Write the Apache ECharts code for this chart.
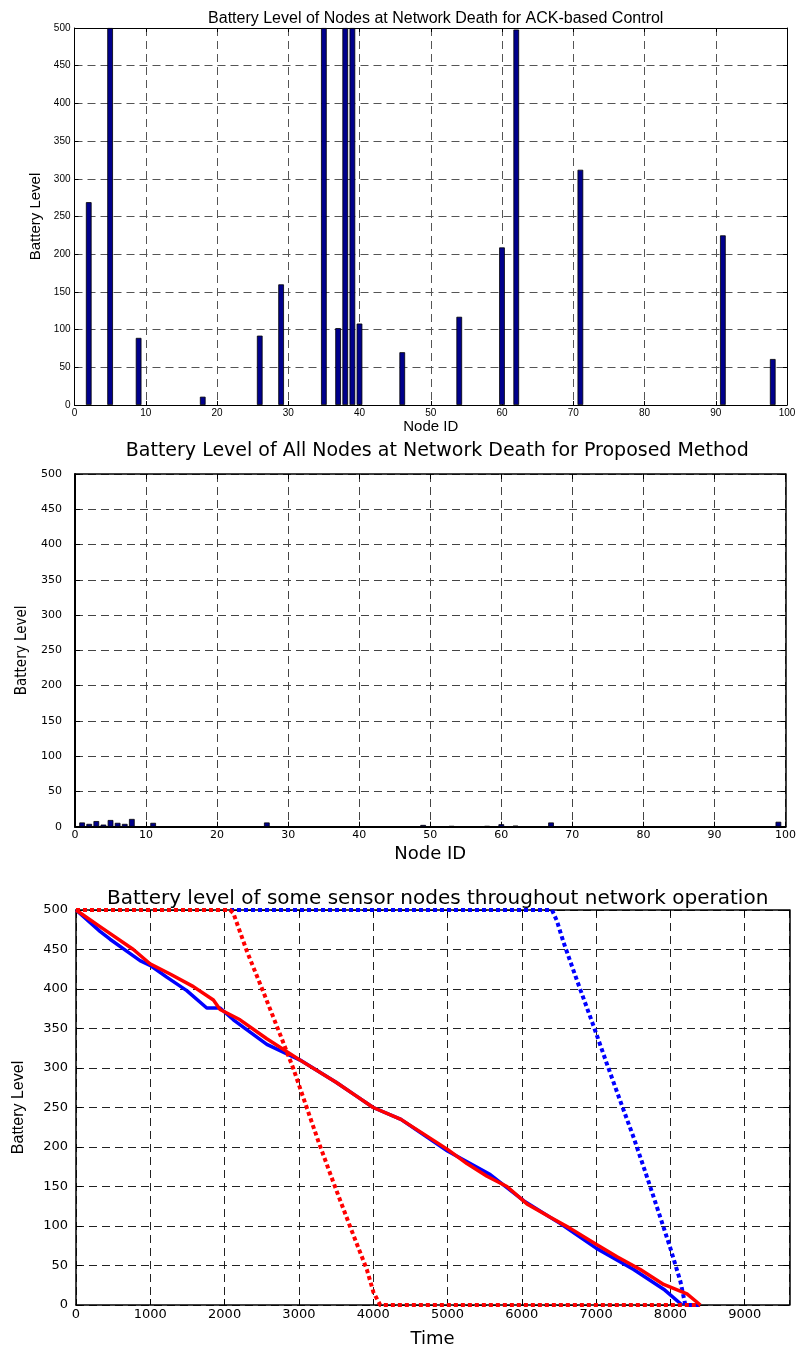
<!DOCTYPE html>
<html><head><meta charset="utf-8">
<script src="https://cdn.jsdelivr.net/npm/echarts@6/dist/echarts.min.js"></script>
<style>html,body{margin:0;padding:0;background:#fff}#c{width:799px;height:1349px}</style>
</head><body><div id="c"></div>
<script>
// ---- Chart 1: ACK-based control ----
const ackNodes  = [2, 5, 9, 18, 26, 29, 35, 37, 38, 39, 40, 46, 54, 60, 62, 71, 91, 98];
const ackLevels = [269, 500, 89, 11, 92, 160, 500, 102, 500, 500, 108, 70, 117, 209, 498, 312, 225, 61];
// ---- Chart 2: proposed method ----
const propNodes  = [1, 2, 3, 4, 5, 6, 7, 8, 11, 27, 49, 53, 58, 60, 62, 67, 99];
const propLevels = [6, 4, 8, 3, 9.5, 5.5, 4, 11, 5.5, 6, 2.5, 1, 1, 3.5, 1.5, 6, 7];
// ---- Chart 3: battery level over time ----
const blueSolidT = [0, 323, 458, 682, 862, 996, 1221, 1491, 1760, 1939, 2118, 2568, 3016, 3500, 3750, 4000, 4373, 5000, 5575, 6024, 6518, 7000, 7505, 7909, 8157];
const blueSolidL = [500, 473, 463, 448, 436, 430, 415, 398, 376, 376, 361, 330, 310, 282, 266, 250, 235, 195, 165, 132, 103, 72, 45, 20, 0];
const redSolidT = [0, 323, 772, 996, 1266, 1580, 1849, 1939, 2208, 2568, 3016, 3500, 3750, 4000, 4373, 5000, 5261, 5531, 5800, 6069, 6383, 6652, 7000, 7282, 7595, 7909, 8223, 8403];
const redSolidL = [500, 479, 450, 432, 419, 403, 386, 374, 361, 337, 310, 282, 266, 250, 235, 197, 179, 163, 150, 128, 111, 97, 77, 61, 45, 26, 14, 0];
const redDotT = [0, 2074, 2118, 2299, 2522, 2770, 2926, 3061, 3270, 3465, 3690, 3914, 4004, 4094, 8400];
const redDotL = [500, 500, 496, 448, 396, 337, 299, 262, 205, 155, 99, 45, 16, 0, 0];
const blueDotT = [0, 6406, 6473, 6562, 6742, 6966, 7146, 7326, 7505, 7685, 7864, 7999, 8134, 8201, 8400];
const blueDotL = [500, 500, 486, 459, 411, 353, 305, 258, 212, 162, 111, 72, 30, 0, 0];

const titles = [
  'Battery Level of Nodes at Network Death for ACK-based Control',
  'Battery Level of All Nodes at Network Death for Proposed Method',
  'Battery level of some sensor nodes throughout network operation'
];
const xNames = ['Node ID', 'Node ID', 'Time'];
const yName = 'Battery Level';

const zip = (a, b) => a.map((v, i) => [v, b[i]]);

const grids = [
  {left: 74.5, top: 28, width: 712.5, height: 377},
  {left: 75, top: 474, width: 714.5, height: 352.7},
  {left: 76, top: 910, width: 713.3, height: 402.7}
];
const cfg = [
  {xMax: 100, xInt: 10, font: 'Liberation Sans', fs: 10, lw: 1, dash: [8,5], gridColor: '#555', tick: 4,
   yLabM: 4, xLabM: 3, titleFs: 16, titleFont: 'Liberation Sans', titleTop: 6,
   xNameFs: 15, xNameFont: 'Liberation Sans', xNameGap: 14, yNameFs: 15, yNameFont: 'Liberation Sans', yNameGap: 29},
  {xMax: 100, xInt: 10, font: 'DejaVu Sans', fs: 11, lw: 2, dash: [8,5], gridColor: '#444', tick: 5,
   yLabM: 13, xLabM: 3, titleFs: 19, titleFont: 'DejaVu Sans', titleTop: 437,
   xNameFs: 18, xNameFont: 'DejaVu Sans', xNameGap: 19, yNameFs: 15, yNameFont: '"DejaVu Sans Condensed", "Liberation Sans"', yNameGap: 40},
  {xMax: 9600, xInt: 1000, font: 'DejaVu Sans', fs: 13, lw: 1.5, dash: [8,5], gridColor: '#222', tick: 6,
   yLabM: 8, xLabM: 3, titleFs: 20, titleFont: 'DejaVu Sans', titleTop: 884,
   xNameFs: 18, xNameFont: 'DejaVu Sans', xNameGap: 25, yNameFs: 16, yNameFont: 'Liberation Sans', yNameGap: 49}
];

const plain = v => String(v);
const xAxis = [], yAxis = [], title = [];
cfg.forEach((c, i) => {
  xAxis.push({
    gridIndex: i, type: 'value', min: 0, max: c.xMax, interval: c.xInt, position: 'bottom',
    name: xNames[i], nameLocation: 'middle', nameGap: c.xNameGap,
    nameTextStyle: {fontSize: c.xNameFs, fontFamily: c.xNameFont, color: '#000'},
    axisLine: {show: true, onZero: false, lineStyle: {color: '#000', width: c.lw}},
    axisTick: {show: true, inside: true, length: c.tick, lineStyle: {color: '#000'}},
    axisLabel: {color: '#000', fontSize: c.fs, fontFamily: c.font, margin: c.xLabM, showMaxLabel: c.xMax === 100, formatter: plain},
    splitLine: {show: true, lineStyle: {color: c.gridColor, type: c.dash, width: 1}}
  });
  xAxis.push({
    gridIndex: i, type: 'value', min: 0, max: c.xMax, interval: c.xInt, position: 'top',
    axisLine: {show: true, onZero: false, lineStyle: {color: '#000', width: i === 1 ? 1.5 : c.lw}},
    axisTick: {show: true, inside: true, length: c.tick, lineStyle: {color: '#000'}},
    axisLabel: {show: false}, splitLine: {show: false}
  });
  yAxis.push({
    gridIndex: i, type: 'value', min: 0, max: 500, interval: 50, position: 'left',
    name: yName, nameLocation: 'middle', nameGap: c.yNameGap,
    nameTextStyle: {fontSize: c.yNameFs, fontFamily: c.yNameFont, color: '#000'},
    axisLine: {show: true, onZero: false, lineStyle: {color: '#000', width: c.lw}},
    axisTick: {show: true, inside: true, length: c.tick, lineStyle: {color: '#000'}},
    axisLabel: {color: '#000', fontSize: c.fs, fontFamily: c.font, margin: c.yLabM, formatter: plain},
    splitLine: {show: true, lineStyle: {color: c.gridColor, type: c.dash, width: 1}}
  });
  yAxis.push({
    gridIndex: i, type: 'value', min: 0, max: 500, interval: 50, position: 'right',
    axisLine: {show: true, onZero: false, lineStyle: {color: '#000', width: i === 1 ? 1.5 : c.lw}},
    axisTick: {show: true, inside: true, length: c.tick, lineStyle: {color: '#000'}},
    axisLabel: {show: false}, splitLine: {show: false}
  });
  title.push({
    text: titles[i], left: grids[i].left + grids[i].width / 2, textAlign: 'center', top: c.titleTop,
    textStyle: {fontSize: c.titleFs, fontFamily: c.titleFont, fontWeight: 'normal', color: '#000'}
  });
});

const barStyle = {color: '#00008c', borderColor: '#000', borderWidth: 0.8};
const line = (t, l, color, dotted, xi, yi) => ({
  type: 'line', xAxisIndex: xi, yAxisIndex: yi, data: zip(t, l), showSymbol: false, symbol: 'none',
  lineStyle: {color: color, width: dotted ? 4 : 3.5, type: dotted ? [4, 3] : 'solid', cap: 'butt', join: 'round'},
  silent: true, animation: false
});

const option = {
  animation: false,
  backgroundColor: '#fff',
  title: title,
  grid: grids.map(g => Object.assign({containLabel: false}, g)),
  xAxis: xAxis,
  yAxis: yAxis,
  series: [
    {type: 'bar', xAxisIndex: 0, yAxisIndex: 0, data: zip(ackNodes, ackLevels), barWidth: 5.7, itemStyle: barStyle, z: 3},
    {type: 'bar', xAxisIndex: 2, yAxisIndex: 2, data: zip(propNodes, propLevels), barWidth: 5.7, itemStyle: barStyle, z: 3},
    line(blueDotT, blueDotL, '#0000ff', true, 4, 4),
    line(blueSolidT, blueSolidL, '#0000ff', false, 4, 4),
    line(redDotT, redDotL, '#ff0000', true, 4, 4),
    line(redSolidT, redSolidL, '#ff0000', false, 4, 4)
  ]
};
const chart = echarts.init(document.getElementById('c'), null, {renderer: 'canvas'});
chart.setOption(option);
</script></body></html>
